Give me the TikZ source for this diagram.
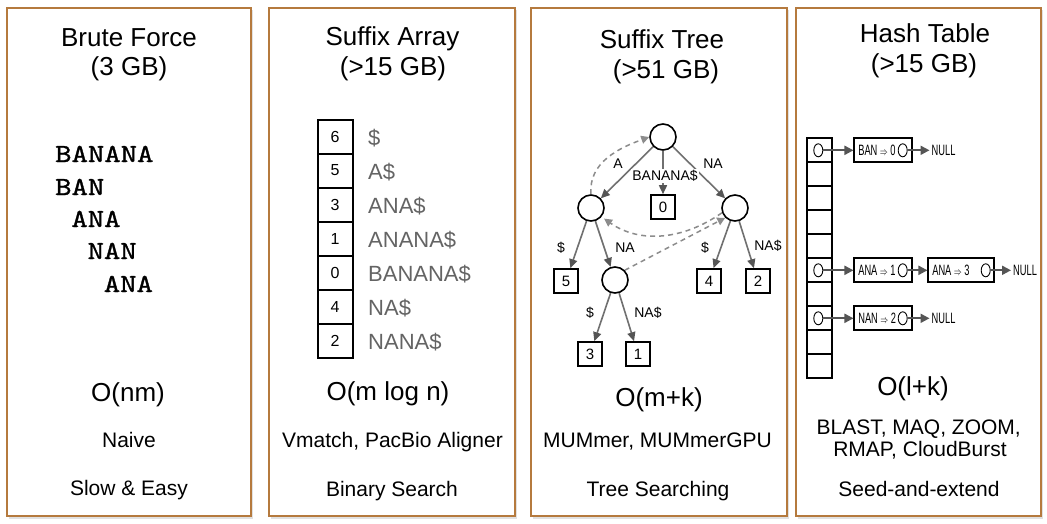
\documentclass[tikz,border=0pt]{standalone}
\usepackage{fontspec}
\usepackage{graphicx}
\setmainfont{Liberation Sans}
\newfontfamily\typefont{lmmono10-regular.otf}[FakeStretch=1.2, FakeBold=1.2]
\newfontfamily\narrowfont{Liberation Sans}[FakeStretch=0.62]
\usetikzlibrary{arrows.meta,shapes.geometric}
\definecolor{panelbrown}{RGB}{181,122,62}
\definecolor{shadowgray}{RGB}{225,225,225}
\definecolor{edgegray}{RGB}{112,112,112}
\definecolor{arrowgray}{RGB}{85,85,85}
\definecolor{linkgray}{RGB}{140,140,140}
\definecolor{textgray}{RGB}{100,100,100}
\newcommand\mapsarrow{\hspace{2.5pt}\scalebox{0.55}[0.8]{$\Rightarrow$}\hspace{2.5pt}}

\begin{document}
\begin{tikzpicture}[x=1pt, y=-1pt,
    panel/.style={draw=panelbrown, line width=1.8pt, fill=white},
    big/.style={anchor=base, font=\fontsize{26}{30}\selectfont},
    small/.style={anchor=base, font=\fontsize{21}{25}\selectfont},
    mono/.style={anchor=base west, inner sep=0pt, font=\typefont\fontsize{26}{26}\selectfont},
    cell/.style={draw, line width=2pt, minimum width=35pt, minimum height=34pt, inner sep=0pt, font=\fontsize{16}{16}\selectfont},
    suffix/.style={anchor=base west, inner sep=0pt, text=textgray, font=\fontsize{22}{22}\selectfont},
    branch/.style={circle, draw, line width=1.6pt, minimum size=26pt, inner sep=0pt},
    leafbox/.style={draw, line width=1.6pt, minimum size=24pt, inner sep=0pt, font=\fontsize{15}{15}\selectfont},
    tedge/.style={draw=edgegray, line width=1.6pt, -{Triangle[length=9pt, width=8pt, color=arrowgray]}},
    tlink/.style={draw=linkgray, line width=1.5pt, dash pattern=on 5pt off 4pt, -{Triangle[length=8pt, width=8pt, color=linkgray]}},
    elbl/.style={inner sep=1pt, font=\fontsize{14}{14}\selectfont},
    slot/.style={draw, line width=1.7pt, minimum width=25pt, minimum height=24pt, inner sep=0pt},
    ptr/.style={ellipse, draw, line width=0.9pt, minimum width=9pt, minimum height=13pt, inner sep=0pt},
    entry/.style={draw, line width=1.7pt, minimum height=24pt, inner xsep=4pt, inner ysep=0pt, align=left, font=\narrowfont\fontsize{15}{15}\selectfont},
    nul/.style={anchor=west, inner sep=2pt, font=\narrowfont\fontsize{15}{15}\selectfont},
    harrow/.style={draw=arrowgray, line width=2pt, -{Triangle[length=9pt, width=9pt]}}]
    \useasboundingbox (0,0) rectangle (1047,523);
    % the four panels
    \foreach \xa/\xb in {7/251, 269/515, 531/787, 796/1041} {
        \fill[shadowgray] (\xa+2,10) rectangle (\xb+2,519);
        \draw[panel] (\xa,8) rectangle (\xb,516);
    }

    % brute force
    \node[big] (bfTitle) at (129,46) {Brute Force};
    \node[big] (bfSize) at (129,75) {(3 GB)};
    \node[mono] (bfText) at (55,162) {BANANA};
    \node[mono] (bfBan) at (55,195) {BAN};
    \node[mono] (bfAna) at (71.2,227) {ANA};
    \node[mono] (bfNan) at (87.4,259) {NAN};
    \node[mono] (bfAnaB) at (103.6,292) {ANA};
    \node[big] (bfTime) at (128,401) {O(nm)};
    \node[small] (bfTool) at (129,447) {Naive};
    \node[small] (bfNote) at (129,495) {Slow \& Easy};

    % suffix array
    \node[big] (saTitle) at (392.5,45) {Suffix Array};
    \node[big] (saSize) at (393,75) {(>15 GB)};
    \foreach \v [count=\i from 0] in {6,5,3,1,0,4,2}
        \node[cell] (sa\i) at (335,136.5+34*\i) {\v};
    \foreach \s [count=\i from 0] in {\$, A\$, ANA\$, ANANA\$, BANANA\$, NA\$, NANA\$}
        \node[suffix] (suf\i) at (368,145+34*\i) {\s};
    \node[big] (saTime) at (388,400) {O(m log n)};
    \node[small] (saTool) at (392.5,447) {Vmatch, PacBio Aligner};
    \node[small] (saNote) at (392,496) {Binary Search};

    % suffix tree
    \node[big] (stTitle) at (662,48) {Suffix Tree};
    \node[big] (stSize) at (666,78) {(>51 GB)};
    \node[branch] (root) at (663,137) {};
    \node[branch] (nA) at (591,208) {};
    \node[branch] (nNA) at (735,208) {};
    \node[branch] (nANA) at (615,280) {};
    \node[leafbox] (leaf0) at (663,207) {0};
    \node[leafbox] (leaf5) at (566,281) {5};
    \node[leafbox] (leaf4) at (709,281) {4};
    \node[leafbox] (leaf2) at (758,281) {2};
    \node[leafbox] (leaf3) at (590,354) {3};
    \node[leafbox] (leaf1) at (638,354) {1};
    \draw[tedge] (root) -- (nA);
    \draw[tedge] (root) -- (leaf0);
    \draw[tedge] (root) -- (nNA);
    \draw[tedge] (nA) -- (leaf5);
    \draw[tedge] (nA) -- (nANA);
    \draw[tedge] (nNA) -- (leaf4);
    \draw[tedge] (nNA) -- (leaf2);
    \draw[tedge] (nANA) -- (leaf3);
    \draw[tedge] (nANA) -- (leaf1);
    \node[elbl] (lA) at (618,164) {A};
    \node[elbl, fill=white] (lBan) at (665,176) {BANANA\$};
    \node[elbl] (lNa) at (713,164) {NA};
    \node[elbl] (lS5) at (561,248) {\$};
    \node[elbl] (lNaB) at (625,248) {NA};
    \node[elbl] (lS4) at (705,248) {\$};
    \node[elbl] (lNaS2) at (768,246) {NA\$};
    \node[elbl] (lS3) at (590,313) {\$};
    \node[elbl] (lNaS1) at (648,313) {NA\$};
    % suffix links
    \draw[tlink] (nA.north) to[out=95, in=200] (root.west);
    \draw[tlink, shorten >=3pt] (nNA.200) to[out=215, in=-35] (nA.-40);
    \draw[tlink] (nANA.north east) -- (nNA.south west);
    \node[big] (stTime) at (659,406) {O(m+k)};
    \node[small] (stTool) at (657.5,447) {MUMmer, MUMmerGPU};
    \node[small] (stNote) at (658,496) {Tree Searching};

    % hash table
    \node[big] (htTitle) at (925,42) {Hash Table};
    \node[big] (htSize) at (924,72) {(>15 GB)};
    \foreach \i in {0,...,9}
        \node[slot] (hs\i) at (819.2,150.3+24*\i) {};
    \node[ptr] (hp0) at (818.3,150.3) {};
    \node[ptr] (hp5) at (818.3,270.3) {};
    \node[ptr] (hp7) at (818.3,318.3) {};
    \node[entry, text width=50pt] (e0) at (883.3,150.3) {BAN\mapsarrow0};
    \node[ptr] (ep0) at (902.7,150.3) {};
    \node[nul] (null0) at (929.5,150.3) {NULL};
    \node[entry, text width=50pt] (e5) at (883.3,270.3) {ANA\mapsarrow1};
    \node[ptr] (ep5) at (902.7,270.3) {};
    \node[entry, text width=58pt] (e5b) at (961.3,270.3) {ANA\mapsarrow3};
    \node[ptr] (ep5b) at (985.7,270.3) {};
    \node[nul] (null5) at (1011,270.3) {NULL};
    \node[entry, text width=50pt] (e7) at (883.3,318.3) {NAN\mapsarrow2};
    \node[ptr] (ep7) at (902.7,318.3) {};
    \node[nul] (null7) at (929.5,318.3) {NULL};
    \draw[harrow] (hp0) -- (e0);
    \draw[harrow] (ep0) -- (null0);
    \draw[harrow] (hp5) -- (e5);
    \draw[harrow] (ep5) -- (e5b);
    \draw[harrow] (ep5b) -- (null5);
    \draw[harrow] (hp7) -- (e7);
    \draw[harrow] (ep7) -- (null7);
    \node[big] (htTime) at (913,395) {O(l+k)};
    \node[small] (htTool) at (918.7,434) {BLAST, MAQ, ZOOM,};
    \node[small] (htToolB) at (920,456.7) {RMAP, CloudBurst};
    \node[small] (htNote) at (919,496.5) {Seed-and-extend};
\end{tikzpicture}
\end{document}
